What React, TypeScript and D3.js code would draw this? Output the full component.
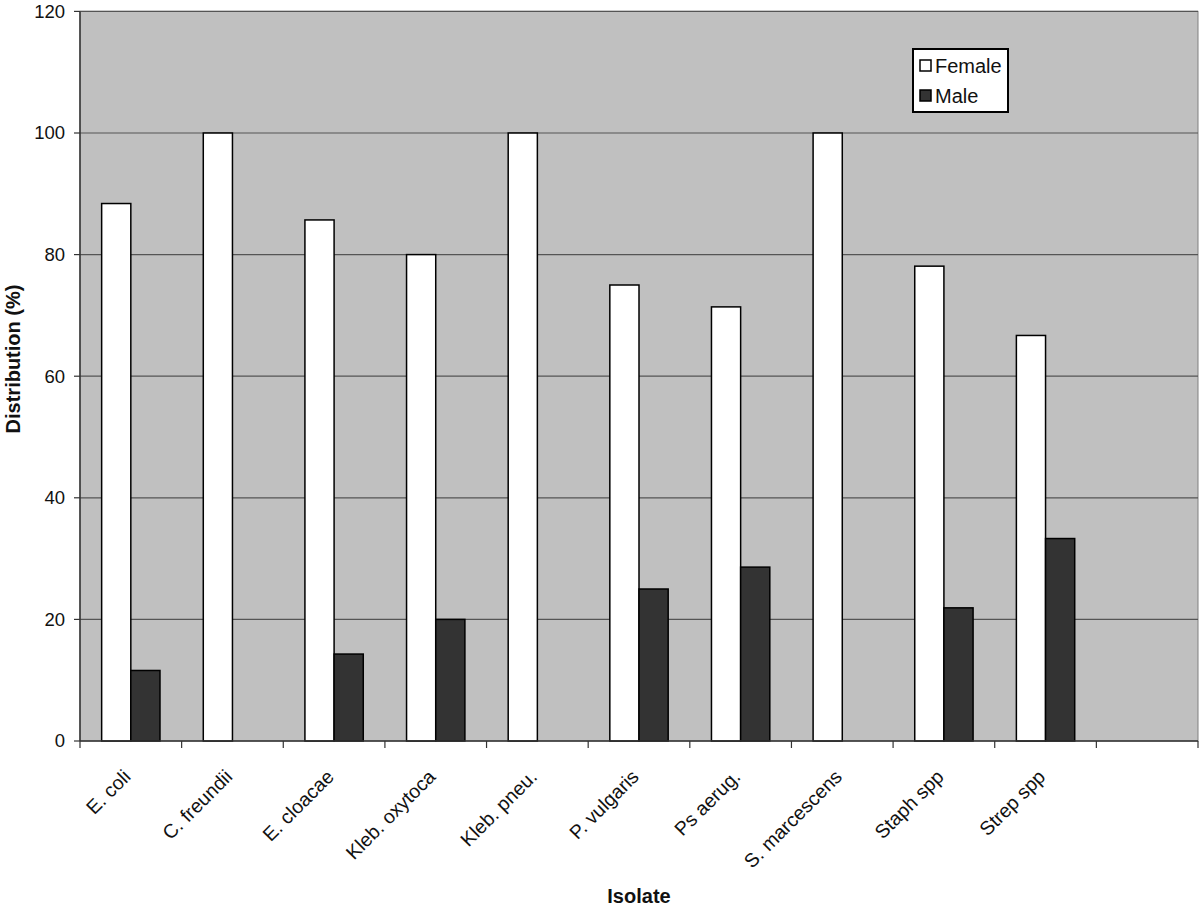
import React from "react";
import * as d3 from "d3";

const categories = ["E. coli", "C. freundii", "E. cloacae", "Kleb. oxytoca", "Kleb. pneu.", "P. vulgaris", "Ps aerug.", "S. marcescens", "Staph spp", "Strep spp", ""];
const female = [88.4, 100, 85.7, 80, 100, 75, 71.4, 100, 78.1, 66.7];
const male = [11.6, 0, 14.3, 20, 0, 25, 28.6, 0, 21.9, 33.3];
const yTicks = [0, 20, 40, 60, 80, 100, 120];
const seriesNames = ["Female", "Male"];
const seriesColors = ["#ffffff", "#333333"];

export default function App() {
  const W = 1200, H = 909;
  const left = 80, right = 1198, top = 11.4, bottom = 741;
  const x = d3.scaleBand<string>().domain(categories.map((c, i) => String(i))).range([left, right]).paddingInner(0).paddingOuter(0);
  const y = d3.scaleLinear().domain([0, 120]).range([bottom, top]);
  const bw = x.bandwidth();
  const pad = bw * 0.213;
  const barW = (bw - 2 * pad) / 2;
  const font = "'Liberation Sans', Arial, sans-serif";
  const series = [female, male];
  return (
    <svg width={W} height={H} style={{ position: "absolute", left: 0, top: 0, display: "block" }} fontFamily={font}>
      <rect x={left} y={top} width={right - left} height={bottom - top} fill="#c0c0c0" stroke="#808080" strokeWidth={1} />
      {yTicks.map((t) => (
        <g key={t}>
          {t > 0 && <line x1={left} x2={right} y1={y(t)} y2={y(t)} stroke="#555" strokeWidth={1.2} />}
          <line x1={left - 6} x2={left} y1={y(t)} y2={y(t)} stroke="#333" strokeWidth={1.2} />
          <text x={65} y={y(t)} dy="0.35em" textAnchor="end" fontSize={18.5} fill="#111">{t}</text>
        </g>
      ))}
      {series.map((vals, s) =>
        vals.map((v, i) => (
          <rect key={s + "-" + i} x={(x(String(i)) as number) + pad + s * barW} y={y(v)} width={barW} height={bottom - y(v)} fill={seriesColors[s]} stroke="#000" strokeWidth={1.5} />
        ))
      )}
      <line x1={left} x2={left} y1={top} y2={bottom} stroke="#333" strokeWidth={1.5} />
      <line x1={left} x2={right} y1={bottom} y2={bottom} stroke="#333" strokeWidth={1.5} />
      {d3.range(categories.length + 1).map((i) => {
        const xx = left + i * bw;
        return <line key={i} x1={xx} x2={xx} y1={bottom} y2={bottom + 7} stroke="#333" strokeWidth={1.2} />;
      })}
      {categories.map((c, i) => {
        const cx = (x(String(i)) as number) + bw / 2;
        return (
          <text key={i} transform={`translate(${cx + 1},${bottom + 37}) rotate(-45)`} textAnchor="end" fontSize={19.5} fill="#111">{c}</text>
        );
      })}
      <text transform={`translate(20,359) rotate(-90)`} textAnchor="middle" fontSize={20} fontWeight="bold" fill="#111">Distribution (%)</text>
      <text x={(left + right) / 2} y={903} textAnchor="middle" fontSize={20} fontWeight="bold" fill="#111">Isolate</text>
      <g>
        <rect x={913} y={49} width={95} height={63} fill="#fff" stroke="#000" strokeWidth={2} />
        {seriesNames.map((n, i) => (
          <g key={n}>
            <rect x={920} y={60 + i * 30} width={11} height={11} fill={seriesColors[i]} stroke="#000" strokeWidth={1.5} />
            <text x={935} y={66 + i * 30} dy="0.35em" fontSize={20} fill="#111">{n}</text>
          </g>
        ))}
      </g>
    </svg>
  );
}
